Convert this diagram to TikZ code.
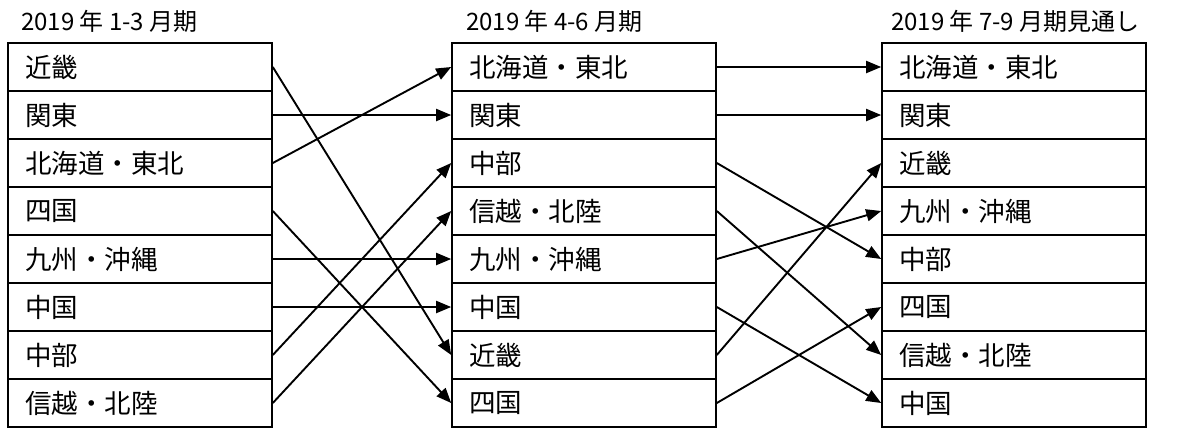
\documentclass[tikz,border=0pt]{standalone}
\usepackage{fontspec}
\setmainfont{Noto Sans CJK JP}
\usetikzlibrary{arrows.meta}
\tikzset{
  cell/.style={draw, line width=1.6pt, minimum height=48pt, text width=230pt, inner xsep=17pt, inner ysep=0pt, align=left, font=\fontsize{26.5}{30}\selectfont, anchor=center},
  title/.style={anchor=west, inner sep=0pt, font=\fontsize{24}{28}\selectfont},
  conn/.style={line width=1.9pt, -{Triangle[length=15pt,width=12pt]}}
}
\begin{document}
\begin{tikzpicture}[x=1pt,y=-1pt]
\useasboundingbox (0,0) rectangle (1177,429);
\node[title] (t1) at (21,21) {2019 年 1-3 月期};
\node[title] (t2) at (466,21) {2019 年 4-6 月期};
\node[title] (t3) at (891,21) {2019 年 7-9 月期見通し};
% column 1
\foreach \i/\t in {1/近畿,2/関東,3/北海道・東北,4/四国,5/九州・沖縄,6/中国,7/中部,8/信越・北陸}{
  \node[cell] (a\i) at (140,{19+48*\i}) {\t};
}
\foreach \i/\t in {1/北海道・東北,2/関東,3/中部,4/信越・北陸,5/九州・沖縄,6/中国,7/近畿,8/四国}{
  \node[cell] (b\i) at (584,{19+48*\i}) {\t};
}
\foreach \i/\t in {1/北海道・東北,2/関東,3/近畿,4/九州・沖縄,5/中部,6/四国,7/信越・北陸,8/中国}{
  \node[cell] (c\i) at (1014,{19+48*\i}) {\t};
}
\foreach \s/\d in {1/7,2/2,3/1,4/8,5/5,6/6,7/3,8/4}{
  \draw[conn] (a\s.east) -- (b\d.west);
}
\foreach \s/\d in {1/1,2/2,3/5,4/7,5/4,6/8,7/3,8/6}{
  \draw[conn] (b\s.east) -- (c\d.west);
}
\end{tikzpicture}
\end{document}
